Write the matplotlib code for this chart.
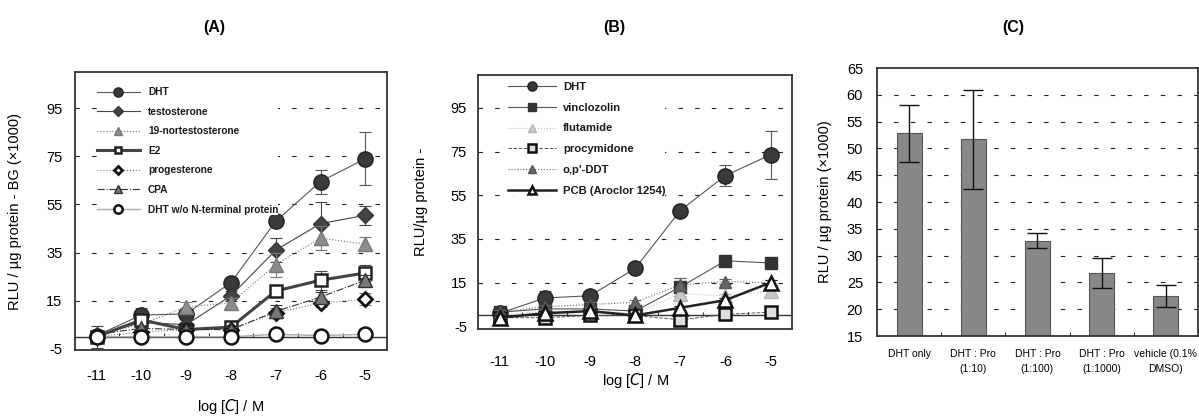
import matplotlib
matplotlib.use('Agg')
import matplotlib.pyplot as plt
import numpy as np

plt.rcParams['font.family'] = ['Liberation Sans', 'DejaVu Sans']
plt.rcParams['axes.unicode_minus'] = False

# ---- data ----
log_c = [-11, -10, -9, -8, -7, -6, -5]

# panel A
a_dht = [0.5, 9, 9.5, 22.5, 48, 64.5, 74]
a_dht_err = [2, 3, 2, 2, 1.5, 5, 11]
a_testo = [0.5, 6, 5, 17, 36, 47, 50.5]
a_testo_err = [1.5, 2, 2, 2, 5, 9, 4]
a_nortesto = [1, 5, 12.5, 14, 30, 41, 38.5]
a_nortesto_err = [1, 2, 2, 2, 5, 5, 3]
a_e2 = [0, 7, 3, 4, 19, 23.5, 26.5]
a_e2_err = [4.5, 2, 1, 2.5, 2, 4, 3.5]
a_proges = [0, 2, 3, 3, 10, 14, 15.5]
a_proges_err = [1, 1, 1, 1, 2, 1.5, 2.5]
a_cpa = [1, 3.5, 3, 3, 10.5, 16.5, 23.5]
a_cpa_err = [1, 1, 1, 1, 2.5, 2, 2]
a_dht_won = [0, 0, 0, 0, 1, 0.5, 1]
a_dht_won_err = [0.5, 0.5, 0.5, 0.5, 0.5, 0.5, 0.5]

# panel B
b_dht = [1, 8, 9, 21.5, 48, 64, 73.5]
b_dht_err = [1, 3, 1.5, 1, 1, 5, 11]
b_vinclo = [1.5, 3, 3, 2, 13, 25, 24]
b_vinclo_err = [1, 1, 1, 1, 4, 1, 1]
b_fluta = [0, 2, 2, 1, 10, 9, 11]
b_fluta_err = [0.5, 1, 1, 1, 1, 1, 1]
b_procy = [-1, -1, 0, 0, -2, 0.5, 1.5]
b_procy_err = [1, 1, 1, 1, 1, 1, 2]
b_ddt = [1.5, 4, 5, 6, 14, 15.5, 15]
b_ddt_err = [1, 1, 1, 1, 3, 1, 1]
b_pcb = [-1, 1, 2, 0, 3.5, 7, 15]
b_pcb_err = [1, 1, 1, 1, 1, 1, 1]

# panel C
c_labels = ['DHT only', 'DHT : Pro\n(1:10)', 'DHT : Pro\n(1:100)',
            'DHT : Pro\n(1:1000)', 'vehicle (0.1%\nDMSO)']
c_values = [52.8, 51.7, 32.8, 26.8, 22.5]
c_err = [5.3, 9.2, 1.4, 2.8, 2.1]

a_ticks = [-5, 15, 35, 55, 75, 95]
c_ticks = [15, 20, 25, 30, 35, 40, 45, 50, 55, 60, 65]

fig = plt.figure(figsize=(11.99, 4.16), dpi=100)

axA = fig.add_axes([0.0626, 0.1587, 0.260, 0.668])
axB = fig.add_axes([0.3987, 0.2091, 0.262, 0.6106])
axC = fig.add_axes([0.7314, 0.1923, 0.2677, 0.644])

grid_ls = (0, (4, 11))


def style_line_axes(ax, ylim, ypad, xpad):
    ax.set_xlim(-11.48, -4.52)
    ax.set_ylim(*ylim)
    ax.set_xticks(log_c)
    ax.set_yticks(a_ticks)
    ax.tick_params(axis='both', length=0, labelsize=10.5)
    ax.tick_params(axis='y', pad=ypad)
    ax.tick_params(axis='x', pad=xpad)
    for s in ax.spines.values():
        s.set_linewidth(1.3)
        s.set_color('#333333')
    for y in a_ticks[1:]:
        ax.axhline(y, color='#222222', lw=0.8, ls=grid_ls, zorder=0)
    ax.axhline(0, color='#333333', lw=1.0, zorder=1)
    mids = [(log_c[i] + log_c[i + 1]) / 2 for i in range(len(log_c) - 1)]
    ax.vlines(mids, 0, 1.4, color='#333333', lw=0.8, zorder=1)
    ax.set_xlabel(r'log [$\mathit{C}$] / M', fontsize=10.5)


def series(ax, y, err, label, marker, mfc, mec, ms, color, lw, ls, mew=1.0):
    ax.errorbar(log_c, y, yerr=err, fmt='none', ecolor=color,
                elinewidth=0.8, capsize=4, capthick=0.8, zorder=3)
    ax.plot(log_c, y, label=label, marker=marker, mfc=mfc, mec=mec,
            ms=ms, mew=mew, color=color, lw=lw, ls=ls, zorder=3)


def make_legend(ax, anchor, fs, hl, htp, ls):
    leg = ax.legend(loc='upper left', bbox_to_anchor=anchor, borderpad=0,
                    prop={'size': fs, 'weight': 'bold'},
                    handlelength=hl, handletextpad=htp, labelspacing=ls,
                    numpoints=1, markerscale=0.6, fancybox=False, framealpha=1,
                    borderaxespad=0)
    leg.get_frame().set_edgecolor('white')
    leg.get_frame().set_linewidth(0)
    leg.set_zorder(5)
    for t in leg.get_texts():
        t.set_color('#1a1a1a')
    return leg


# ---- (A) ----
series(axA, a_dht, a_dht_err, 'DHT', 'o', '#3a3a3a', '#222222', 11, '#555555', 0.8, '-')
series(axA, a_testo, a_testo_err, 'testosterone', 'D', '#444444', '#333333', 8, '#444444', 0.8, '-')
series(axA, a_nortesto, a_nortesto_err, '19-nortestosterone', '^', '#8c8c8c', '#777777', 10, '#777777', 0.8, ':')
series(axA, a_e2, a_e2_err, 'E2', 's', 'white', '#222222', 8, '#444444', 2.2, '-', mew=1.8)
series(axA, a_proges, a_proges_err, 'progesterone', 'D', 'white', '#111111', 7, '#777777', 0.8, ':', mew=2)
series(axA, a_cpa, a_cpa_err, 'CPA', '^', '#777777', '#333333', 10, '#333333', 0.8, '-.')
series(axA, a_dht_won, a_dht_won_err, 'DHT w/o N-terminal protein', 'o', 'white', '#111111', 10, '#aaaaaa', 1.0, '-', mew=1.8)
style_line_axes(axA, (-5.5, 110), 9, 14)
axA.yaxis.set_label_coords(-0.17, 0.55)
axA.xaxis.set_label_coords(0.5, -0.17)
axA.set_ylabel('RLU / µg protein - BG (×1000)', fontsize=10.5)
make_legend(axA, (0.07, 0.945), 7.3, 4.25, 0.8, 0.94)

# ---- (B) ----
series(axB, b_dht, b_dht_err, 'DHT', 'o', '#3a3a3a', '#222222', 11, '#555555', 0.8, '-')
series(axB, b_vinclo, b_vinclo_err, 'vinclozolin', 's', '#333333', '#333333', 9, '#555555', 0.8, '-')
series(axB, b_fluta, b_fluta_err, 'flutamide', '^', '#c8c8c8', '#b5b5b5', 10, '#bbbbbb', 0.8, ':')
series(axB, b_procy, b_procy_err, 'procymidone', 's', '#dddddd', '#111111', 9, '#555555', 0.7, '--', mew=1.8)
series(axB, b_ddt, b_ddt_err, "o,p'-DDT", '^', '#666666', '#555555', 9, '#666666', 0.8, ':')
series(axB, b_pcb, b_pcb_err, 'PCB (Aroclor 1254)', '^', 'white', '#111111', 10, '#222222', 1.8, '-', mew=1.8)
style_line_axes(axB, (-6.2, 110), 8, 19)
axB.yaxis.set_label_coords(-0.16, 0.62)
axB.xaxis.set_label_coords(0.5, -0.165)
axB.set_ylabel('RLU/µg protein -', fontsize=10.5)
make_legend(axB, (0.096, 0.972), 8.1, 4.27, 0.6, 0.95)

# ---- (C) ----
xc = np.arange(len(c_values))
axC.bar(xc, c_values, width=0.39, bottom=0, color='#888888', edgecolor='#555555',
        lw=0.8, zorder=2)
axC.errorbar(xc, c_values, yerr=c_err, fmt='none', ecolor='#111111', elinewidth=1,
             capsize=7, capthick=1, zorder=3)
axC.set_xlim(-0.5, len(c_values) - 0.5)
axC.set_ylim(15, 65)
axC.set_yticks(c_ticks)
axC.set_xticks(xc)
axC.set_xticklabels(c_labels, fontsize=7.5, linespacing=1.7)
axC.set_xticks(xc[:-1] + 0.5, minor=True)
axC.tick_params(axis='x', which='major', length=0, pad=9)
axC.tick_params(axis='x', which='minor', length=3, direction='in')
axC.tick_params(axis='y', length=0, pad=10, labelsize=10.5)
for y in c_ticks[1:-1]:
    axC.axhline(y, color='#222222', lw=0.8, ls=grid_ls, zorder=0)
for s in axC.spines.values():
    s.set_linewidth(1.3)
    s.set_color('#333333')
axC.set_ylabel('RLU / µg protein (×1000)', fontsize=10.5)
axC.yaxis.set_label_coords(-0.14, 0.5)

for x, t in [(0.179, '(A)'), (0.512, '(B)'), (0.845, '(C)')]:
    fig.text(x, 0.935, t, ha='center', va='center', fontsize=11.5, fontweight='bold')

fig.savefig('out.png', dpi=100)
